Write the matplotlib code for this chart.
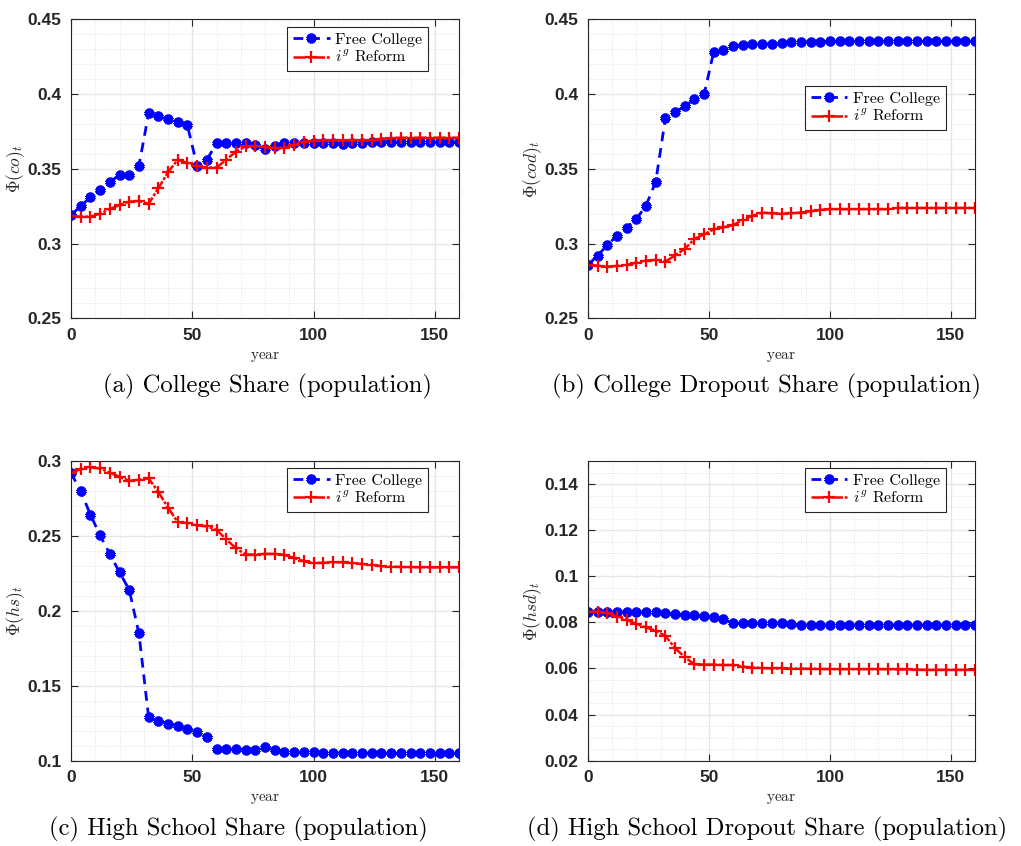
import numpy as np
import matplotlib
matplotlib.use('Agg')
import matplotlib.pyplot as plt
from matplotlib.ticker import MultipleLocator

plt.rcParams['mathtext.fontset'] = 'cm'

years = np.arange(0, 161, 4)

# college share
co_free = [0.319, 0.325, 0.331, 0.336, 0.341, 0.346, 0.346, 0.352, 0.387, 0.385, 0.383,
           0.381, 0.379, 0.352, 0.356, 0.367, 0.367, 0.367, 0.367, 0.366, 0.363, 0.365,
           0.3675, 0.3675, 0.3675, 0.3675, 0.3675, 0.367, 0.3665, 0.367, 0.3675, 0.3678,
           0.368, 0.368, 0.368, 0.368, 0.368, 0.368, 0.368, 0.368, 0.368]
co_ig = [0.3185, 0.318, 0.318, 0.320, 0.323, 0.3258, 0.328, 0.3285, 0.3265, 0.337, 0.3477,
         0.356, 0.354, 0.352, 0.3508, 0.3508, 0.356, 0.3615, 0.365, 0.365, 0.3645, 0.3637,
         0.3637, 0.366, 0.368, 0.3688, 0.369, 0.369, 0.369, 0.369, 0.369, 0.369, 0.370,
         0.3705, 0.3708, 0.3708, 0.3708, 0.3708, 0.3708, 0.3708, 0.3708]

# college dropout share
cod_free = [0.2857, 0.292, 0.299, 0.3053, 0.3107, 0.3164, 0.3254, 0.3414, 0.3838, 0.3878,
            0.392, 0.3965, 0.3998, 0.4284, 0.4295, 0.4324, 0.4328, 0.4333, 0.4337, 0.4335,
            0.4344, 0.4348, 0.4348, 0.4350, 0.4350, 0.4353, 0.4353, 0.4353, 0.4353, 0.4353,
            0.4353, 0.4353, 0.4353, 0.4353, 0.4353, 0.4353, 0.4353, 0.4353, 0.4353, 0.4353,
            0.4353]
cod_ig = [0.2857, 0.2852, 0.2846, 0.285, 0.2857, 0.2872, 0.2886, 0.289, 0.2879, 0.2921,
          0.2964, 0.3031, 0.3062, 0.3095, 0.3109, 0.3124, 0.3158, 0.3185, 0.3207, 0.3202,
          0.3198, 0.3202, 0.3207, 0.3216, 0.3225, 0.323, 0.323, 0.323, 0.323, 0.323, 0.323,
          0.323, 0.3238, 0.3238, 0.3238, 0.3238, 0.3238, 0.3238, 0.3238, 0.3238, 0.3238]

# high school share
hs_free = [0.292, 0.2799, 0.2642, 0.2503, 0.238, 0.2257, 0.2141, 0.185, 0.1291, 0.1266,
           0.1246, 0.1233, 0.121, 0.1192, 0.1157, 0.1078, 0.1076, 0.1076, 0.1072, 0.1072,
           0.109, 0.1072, 0.106, 0.1058, 0.1056, 0.1055, 0.1054, 0.1054, 0.1053, 0.1052,
           0.1052, 0.1051, 0.105, 0.105, 0.105, 0.105, 0.105, 0.105, 0.105, 0.105, 0.105]
hs_ig = [0.292, 0.2946, 0.2957, 0.295, 0.2922, 0.2895, 0.2868, 0.2875, 0.2884, 0.2794,
         0.2689, 0.2593, 0.2586, 0.257, 0.2564, 0.2541, 0.2477, 0.2418, 0.2376, 0.2376,
         0.238, 0.238, 0.2374, 0.2353, 0.2331, 0.232, 0.232, 0.2324, 0.2324, 0.2318,
         0.2313, 0.2306, 0.2298, 0.2295, 0.2293, 0.2292, 0.2291, 0.229, 0.229, 0.229, 0.229]

# high school dropout share
hsd_free = [0.0846, 0.0846, 0.0846, 0.0846, 0.0846, 0.0846, 0.0846, 0.0846, 0.084, 0.0837,
            0.0834, 0.0831, 0.0828, 0.0824, 0.0815, 0.0796, 0.0796, 0.0796, 0.0796, 0.0796,
            0.0798, 0.0792, 0.0789, 0.0789, 0.0789, 0.0789, 0.0789, 0.0789, 0.0789, 0.0789,
            0.0789, 0.0789, 0.0789, 0.0789, 0.0789, 0.0789, 0.0789, 0.0789, 0.0789, 0.0789,
            0.0789]
hsd_ig = [0.0846, 0.0846, 0.0841, 0.0825, 0.0811, 0.0793, 0.0778, 0.0764, 0.0741, 0.0688,
          0.0649, 0.0618, 0.0617, 0.0617, 0.0615, 0.0615, 0.0608, 0.0604, 0.0602, 0.0600,
          0.0600, 0.0599, 0.0599, 0.0599, 0.0598, 0.0597, 0.0597, 0.0597, 0.0597, 0.0597,
          0.0597, 0.0597, 0.0596, 0.0596, 0.0595, 0.0594, 0.0594, 0.0594, 0.0594, 0.0594,
          0.0594]

panels = [
    (co_free, co_ig, r'$\Phi(co)_t$', (0.25, 0.45), 0.05, 0.01,
     '(a) College Share (population)', (0.920, 0.974)),
    (cod_free, cod_ig, r'$\Phi(cod)_t$', (0.25, 0.45), 0.05, 0.01,
     '(b) College Dropout Share (population)', (0.924, 0.777)),
    (hs_free, hs_ig, r'$\Phi(hs)_t$', (0.1, 0.3), 0.05, 0.01,
     '(c) High School Share (population)', (0.920, 0.977)),
    (hsd_free, hsd_ig, r'$\Phi(hsd)_t$', (0.02, 0.15), 0.02, 0.005,
     '(d) High School Dropout Share (population)', (0.924, 0.977)),
]

W, H = 1021, 846
fig = plt.figure(figsize=(W / 100, H / 100), dpi=100)

# axes boxes in pixels: left, top, right, bottom
boxes = [(71, 19.3, 459, 318.3), (588, 19.3, 975, 318.3),
         (71, 461, 459, 760.7), (588, 461, 975, 760.7)]
captions_xy = [(267, 386), (766, 386), (238, 829), (767, 829)]

tick_family = ['Liberation Sans Narrow', 'Liberation Sans']
frame = '#262626'

for (free, ig, ylab, ylim, major, minor, caption, leg_xy), box, cxy in zip(panels, boxes, captions_xy):
    l, t, r, b = box
    ax = fig.add_axes([l / W, 1 - b / H, (r - l) / W, (b - t) / H])
    ax.plot(years, free, color='#0000ff', linestyle=(0, (3.5, 2.5)), linewidth=2.0,
            marker=(6, 2, 0), markersize=7, markeredgewidth=2.8, label='Free College')
    ax.plot(years, ig, color='#ff0000', linestyle=(0, (5, 0.7, 1.2, 0.7)), linewidth=1.8,
            marker='+', markersize=8, markeredgewidth=1.6, label=r'$i^g$ Reform')

    ax.set_xlim(0, 160)
    ax.set_ylim(*ylim)
    ax.xaxis.set_major_locator(MultipleLocator(50))
    ax.xaxis.set_minor_locator(MultipleLocator(10))
    ax.yaxis.set_major_locator(MultipleLocator(major))
    ax.yaxis.set_minor_locator(MultipleLocator(minor))
    ax.set_yticks(ax.get_yticks())
    ax.set_ylim(*ylim)
    ax.set_yticklabels(['%g' % v for v in ax.get_yticks()])

    ax.grid(which='major', color='#e6e6e6', linewidth=1.0, linestyle='-')
    ax.grid(which='minor', color='#d9d9d9', linewidth=0.6, linestyle=(0, (1, 2)))
    ax.set_axisbelow(True)
    ax.tick_params(which='major', direction='in', length=5, width=0.8, color=frame,
                   top=True, right=True, pad=7)
    ax.tick_params(which='minor', length=0, top=True, right=True)
    for lab in ax.get_xticklabels() + ax.get_yticklabels():
        lab.set_fontfamily(tick_family)
        lab.set_fontweight('bold')
        lab.set_fontsize(12.5)
        lab.set_color(frame)
    for s in ax.spines.values():
        s.set_color(frame)
        s.set_linewidth(0.8)

    ax.set_xlabel(r'$\mathrm{year}$', fontsize=11, labelpad=4, color=frame)
    ax.set_ylabel(ylab, fontsize=12.5, color=frame)
    ax.yaxis.set_label_coords(-0.114, 0.5)

    leg = ax.legend(loc='upper right', bbox_to_anchor=leg_xy, borderaxespad=0,
                    fancybox=False, edgecolor=frame, framealpha=1, handlelength=2.3,
                    handletextpad=0.35, borderpad=0.35, labelspacing=0.2,
                    prop=dict(family='cmr10', size=11.5))
    leg.get_frame().set_linewidth(0.8)

    fig.text(cxy[0] / W, 1 - cxy[1] / H, caption, ha='center', va='center',
             family='cmr10', fontsize=17.8)

fig.savefig('out.png', dpi=100, facecolor='white')
